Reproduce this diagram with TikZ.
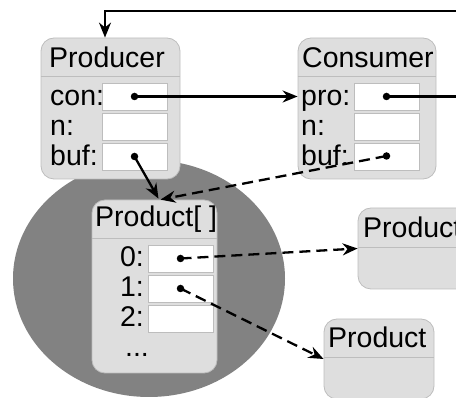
\documentclass[tikz,border=0pt]{standalone}
\usepackage{fontspec}
\setmainfont{Liberation Sans}
\usetikzlibrary{arrows.meta}
\definecolor{boxgray}{HTML}{DEDEDE}
\definecolor{edgegray}{HTML}{BDBDBD}
\definecolor{blobgray}{HTML}{828282}
\tikzset{
  objbox/.style={draw=edgegray, fill=boxgray, rounded corners=13pt, line width=0.8pt, inner sep=0pt},
  field/.style={draw=edgegray, fill=white, line width=0.8pt, minimum width=65pt, minimum height=27pt, inner sep=0pt},
  lbl/.style={font=\fontsize{28.5}{28.5}\selectfont, inner sep=0pt},
  dot/.style={circle, fill=black, inner sep=0pt, minimum size=7.5pt},
  ptr/.style={line width=2.3pt, -{Stealth[length=15pt,width=12pt]}},
  dashptr/.style={ptr, dash pattern=on 11pt off 6pt},
}
\begin{document}
\begin{tikzpicture}[x=1pt,y=-1pt]
\useasboundingbox (0,0) rectangle (456,398);
\clip (0,0) rectangle (456,398);
% the array with everything it holds
\fill [blobgray] (149,278.5) ellipse [x radius=136, y radius=118.5];
% Producer
\node [objbox, minimum width=139pt, minimum height=141pt] (prod) at (110.5,108.5) {};
\draw [edgegray, line width=0.8pt] (prod.west |- 0,76) -- (prod.east |- 0,76);
\node [lbl, anchor=base west] (prodname) at (49,68) {Producer};
\node [lbl, anchor=base west] (pcon) at (50,106) {con:};
\node [lbl, anchor=base west] (pn) at (50,136) {n:};
\node [lbl, anchor=base west] (pbuf) at (50,166) {buf:};
\node [field] (con) at (134.5,96.5) {};
\node [field] (pnf) at (134.5,126.5) {};
\node [field] (pbf) at (134.5,156.5) {};
% Consumer
\node [objbox, minimum width=138pt, minimum height=141pt] (cons) at (367,108.5) {};
\draw [edgegray, line width=0.8pt] (cons.west |- 0,76) -- (cons.east |- 0,76);
\node [lbl, anchor=base west] (consname) at (302,68) {Consumer};
\node [lbl, anchor=base west] (cpro) at (301,106) {pro:};
\node [lbl, anchor=base west] (cn) at (301,136) {n:};
\node [lbl, anchor=base west] (cbuf) at (301,166) {buf:};
\node [field] (pro) at (386.5,96.5) {};
\node [field] (cnf) at (386.5,126.5) {};
\node [field] (cbf) at (386.5,156.5) {};
% Product[ ]
\node [objbox, minimum width=125pt, minimum height=173pt] (arr) at (154.5,286.5) {};
\draw [edgegray, line width=0.8pt] (arr.west |- 0,238) -- (arr.east |- 0,238);
\node [lbl, anchor=base west] (arrname) at (95,227) {Product[ ]};
\node [lbl, anchor=base east] (i0) at (144,267) {0:};
\node [lbl, anchor=base east] (i1) at (144,297) {1:};
\node [lbl, anchor=base east] (i2) at (144,327) {2:};
\node [lbl, anchor=base] (more) at (137,357) {...};
\node [field] (e0) at (180.5,258.5) {};
\node [field] (e1) at (180.5,288.5) {};
\node [field] (e2) at (180.5,318.5) {};
% the two products
\node [objbox, minimum width=140pt, minimum height=81pt] (proda) at (428,248.5) {};
\draw [edgegray, line width=0.8pt] (proda.west |- 0,247) -- (proda.east |- 0,247);
\node [lbl, anchor=base west] (prodaname) at (363,238) {Product};
\node [objbox, minimum width=110pt, minimum height=80pt] (prodb) at (379,359) {};
\draw [edgegray, line width=0.8pt] (prodb.west |- 0,357) -- (prodb.east |- 0,357);
\node [lbl, anchor=base west] (prodbname) at (328,348) {Product};
% pointers
\node [dot] (condot) at (con) {};
\node [dot] (pbufdot) at (pbf) {};
\node [dot] (prodot) at (pro) {};
\node [dot] (cbufdot) at ([yshift=0.5pt]cbf) {};
\node [dot] (e0dot) at (e0) {};
\node [dot] (e1dot) at (e1) {};
\coordinate (back) at (490,11);
\draw [ptr] (condot.center) -- (condot -| cons.west);
\draw [ptr] (prodot.center) -- (prodot -| back) -- (back) -- (back -| 105,0) -- (105,0 |- prod.north);
\draw [ptr] (pbufdot.center) -- ([xshift=4pt,yshift=1pt]arr.north);
\draw [dashptr] (cbufdot.center) -- ([xshift=6pt]arr.north);
\draw [dashptr] (e0dot.center) -- (proda.west);
\draw [dashptr] (e1dot.center) -- (prodb.west);
\end{tikzpicture}
\end{document}
